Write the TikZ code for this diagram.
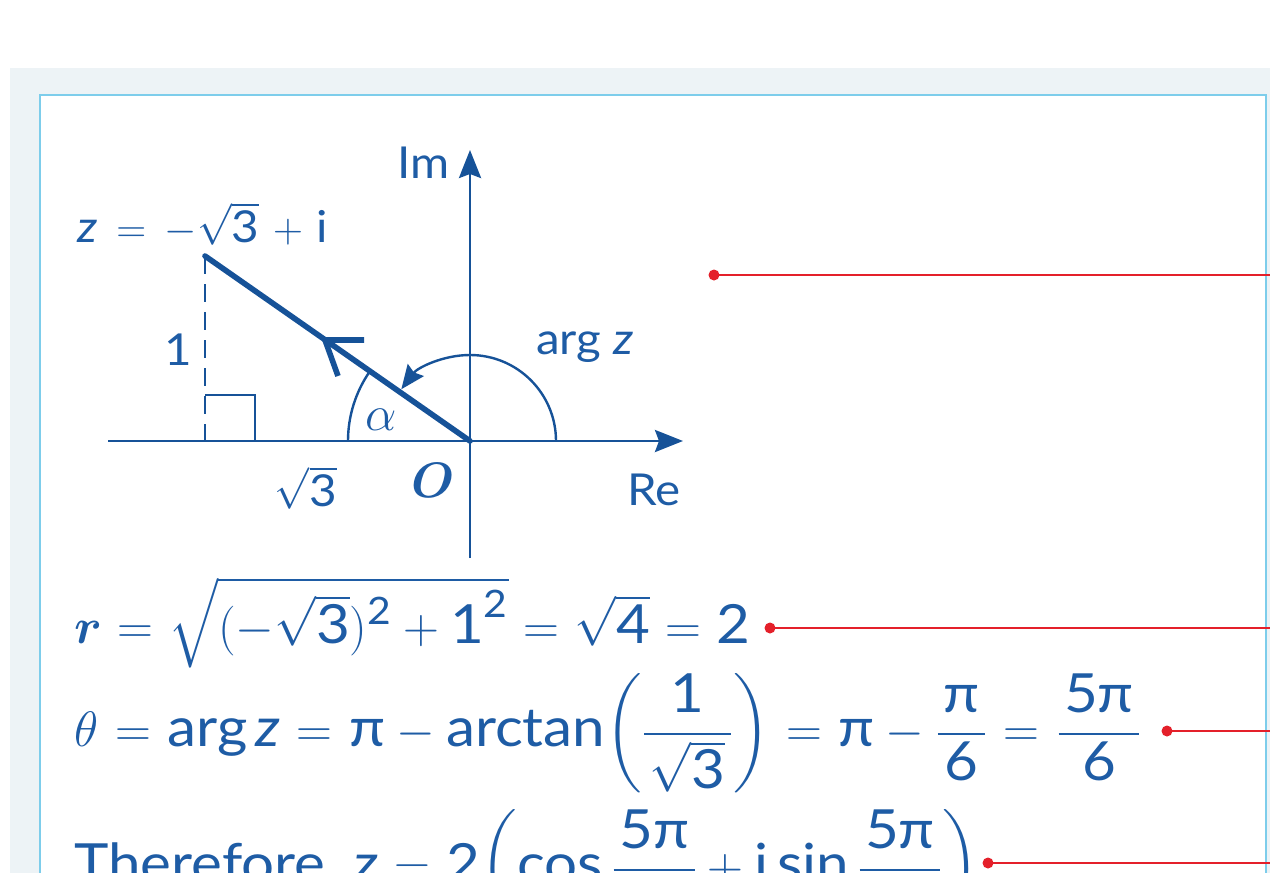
\documentclass[tikz,border=0pt]{standalone}
\usepackage{amsmath}
\usepackage{fontspec}
\setmainfont[FakeStretch=1.08]{Lato}
\usetikzlibrary{arrows.meta}
\definecolor{eqblue}{RGB}{30,92,165}
\definecolor{lnblue}{RGB}{22,82,152}
\definecolor{redl}{RGB}{228,32,42}
\definecolor{bggray}{RGB}{237,243,246}
\definecolor{boxblue}{RGB}{125,205,235}
\newcommand\tx[1]{\text{#1}}
\newcommand\EQ{\mathrel{\mkern1mu=\mkern1mu}}
\newcommand\EQs{\mathrel{\mkern0.5mu=\mkern0.5mu}}
\newcommand\EQl{\mathrel{\mkern3mu=\mkern3mu}}
\newcommand\PLl{\mathbin{\mkern2mu+\mkern2mu}}
\newcommand\fr[2]{\dfrac{\mkern2mu#1\mkern2mu}{\mkern2mu#2\mkern2mu}}
\tikzset{
  axis/.style={lnblue, line width=1.4pt, -{Stealth[length=14pt,width=11pt,inset=2pt]}},
  vec/.style={lnblue, line width=2.8pt},
  thin/.style={lnblue, line width=1.2pt},
  lbl/.style={text=eqblue, font=\fontsize{22}{26}\selectfont, inner sep=0pt},
  eq/.style={text=eqblue, font=\fontsize{27}{32}\selectfont, inner sep=0pt, anchor=base west},
  redline/.style={redl, line width=1.1pt},
  reddot/.style={circle, fill=redl, minimum size=5.5pt, inner sep=0pt},
}
\begin{document}
\begin{tikzpicture}[x=0.5pt,y=-0.5pt]
\useasboundingbox (0,0) rectangle (1270,873);
\clip (0,0) rectangle (1270,873);
% background panels
\fill[bggray] (10,68) rectangle (1290,900);
\fill[white] (40,95) rectangle (1266,900);
\draw[boxblue, line width=1.4pt] (40,900) -- (40,95) -- (1266,95) -- (1266,900);

% axes
\coordinate (O) at (470,441);
\coordinate (xl) at (108,441);
\coordinate (xr) at (683,441);
\coordinate (yb) at (470,558);
\coordinate (yt) at (470,150);
\coordinate (Z) at (205,256);
\coordinate (Zf) at (205,441);
\draw[axis] (xl) -- (xr);
\draw[axis] (yb) -- (yt);

% right angle and dashed height
\draw[lnblue, line width=1.3pt, dashed, dash pattern=on 9pt off 5pt] (Z) -- (Zf);
\draw[thin] (205,395) -- (255,395) -- (255,441);

% angle alpha
\draw[thin] (O) ++(180:122) arc[start angle=180, end angle=214.9, radius=122];
% arg z arc with arrow
\draw[thin, -{Stealth[length=12pt,width=10pt,inset=1.5pt]}] (O) ++(0:86) arc[start angle=0, end angle=-143, radius=86];

% vector
\draw[vec, line cap=round] (O) -- (Z);
\coordinate (chv) at (325,340);
\coordinate (cha) at (364,340);
\coordinate (chb) at (338,376);
\draw[vec, line cap=butt, line join=miter] (cha) -- (chv) -- (chb);

% labels
\node[lbl] (im) at (424,163) {Im};
\node[lbl] (re) at (654,490) {Re};
\node[lbl] (zl) at (203,224) {$\tx{\itshape z} \EQl -\sqrt{\tx{3}} \PLl \tx{i}$};
\node[lbl] (one) at (178,350) {1};
\node[lbl, font=\fontsize{27}{30}\selectfont] (al) at (381,420) {$\alpha$};
\node[lbl] (s3) at (306,488) {$\sqrt{\tx{3}}$};
\node[lbl, font=\fontsize{29}{32}\selectfont] (ol) at (433,480) {$\boldsymbol{O}$};
\node[lbl] (arg) at (585,347) {arg \textit{z}};

% equations
\node[eq] (eqr) at (74,643) {$\boldsymbol{r} \EQs \sqrt{\rule{0pt}{0.86em}\smash[t]{(-\sqrt{\tx{3}})^{\tx{2}} + \tx{1}^{\tx{2}}}} \EQs \sqrt{\tx{4}} \EQs \tx{2}$};
\node[eq] (eqt) at (74,746) {$\theta \EQ \tx{arg}\,\tx{\itshape z} \EQ \tx{π} - \tx{arctan}\!\left(\fr{\tx{1}}{\sqrt{\tx{3}}}\right) \EQ \tx{π} - \fr{\tx{π}}{\tx{6}} \EQ \fr{\tx{5π}}{\tx{6}}$};
\node[eq] (eqz) at (74,882) {$\tx{Therefore}\;\; \tx{\itshape z} \EQ \tx{2}\!\left(\tx{cos}\,\fr{\tx{5π}}{\tx{6}} + \tx{i}\,\tx{sin}\,\fr{\tx{5π}}{\tx{6}}\right)$};

% red connectors
\node[reddot] (d1) at (714,275) {};
\node[reddot] (d2) at (770,628) {};
\node[reddot] (d3) at (1167,731) {};
\node[reddot] (d4) at (988,863) {};
\coordinate (e1) at (1272,275);
\coordinate (e2) at (1272,628);
\coordinate (e3) at (1272,731);
\coordinate (e4) at (1272,863);
\draw[redline] (d1.center) -- (e1);
\draw[redline] (d2.center) -- (e2);
\draw[redline] (d3.center) -- (e3);
\draw[redline] (d4.center) -- (e4);
\end{tikzpicture}
\end{document}
